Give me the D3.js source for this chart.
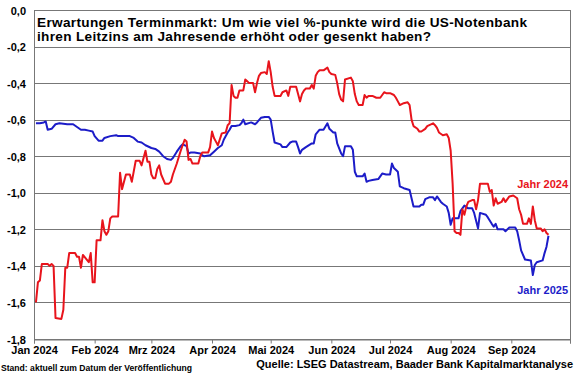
<!DOCTYPE html>
<html>
<head>
<meta charset="utf-8">
<script src="https://cdn.jsdelivr.net/npm/d3@7"></script>
<style>
  body { margin: 0; background: #fff; }
  svg { display: block; font-family: "Liberation Sans", Arial, sans-serif; font-weight: bold; }
</style>
</head>
<body>
<svg id="chart"></svg>
<script>
const width = 580;
const height = 375;
const margin = { top: 10, right: 10, bottom: 36, left: 34 };

const parseTime = d3.timeParse("%Y-%m-%d");

const titleLines = [
  "Erwartungen Terminmarkt: Um wie viel %-punkte wird die US-Notenbank",
  "ihren Leitzins am Jahresende erhöht oder gesenkt haben?"
];
const titleWidths = [490, 394];
const yTicks = [0, -0.2, -0.4, -0.6, -0.8, -1.0, -1.2, -1.4, -1.6, -1.8];
const monthTicks = ["2024-01-01", "2024-02-01", "2024-03-01", "2024-04-01", "2024-05-01",
  "2024-06-01", "2024-07-01", "2024-08-01", "2024-09-01", "2024-10-01"];
const monthLabels = ["Jan 2024", "Feb 2024", "Mrz 2024", "Apr 2024", "Mai 2024",
  "Jun 2024", "Jul 2024", "Aug 2024", "Sep 2024", ""];

// Erwartung fuer Jahresende 2024 (rot)
const jahr2024 = [
  ["2024-01-02", -1.60], ["2024-01-03", -1.49], ["2024-01-04", -1.48], ["2024-01-05", -1.39],
  ["2024-01-08", -1.39], ["2024-01-09", -1.40], ["2024-01-10", -1.39], ["2024-01-11", -1.40],
  ["2024-01-12", -1.685], ["2024-01-15", -1.69], ["2024-01-16", -1.64], ["2024-01-17", -1.41],
  ["2024-01-18", -1.41], ["2024-01-19", -1.33], ["2024-01-22", -1.33], ["2024-01-23", -1.35],
  ["2024-01-24", -1.35], ["2024-01-25", -1.41], ["2024-01-26", -1.34], ["2024-01-29", -1.38],
  ["2024-01-30", -1.33], ["2024-01-31", -1.49], ["2024-02-01", -1.49], ["2024-02-02", -1.26],
  ["2024-02-04", -1.26], ["2024-02-05", -1.15], ["2024-02-06", -1.21], ["2024-02-07", -1.23],
  ["2024-02-08", -1.21], ["2024-02-09", -1.14], ["2024-02-10", -1.13], ["2024-02-13", -1.13],
  ["2024-02-14", -0.89], ["2024-02-15", -0.98], ["2024-02-17", -0.90], ["2024-02-19", -0.90],
  ["2024-02-20", -0.94], ["2024-02-22", -0.825], ["2024-02-24", -0.825], ["2024-02-25", -0.85],
  ["2024-02-27", -0.77], ["2024-02-28", -0.83], ["2024-02-29", -0.83], ["2024-03-01", -0.90],
  ["2024-03-02", -0.92], ["2024-03-03", -0.92], ["2024-03-04", -0.87], ["2024-03-05", -0.85],
  ["2024-03-06", -0.90], ["2024-03-08", -0.95], ["2024-03-10", -0.95], ["2024-03-11", -0.94],
  ["2024-03-12", -0.90], ["2024-03-14", -0.84], ["2024-03-16", -0.77], ["2024-03-18", -0.71],
  ["2024-03-19", -0.72], ["2024-03-20", -0.82], ["2024-03-21", -0.815], ["2024-03-22", -0.84],
  ["2024-03-25", -0.84], ["2024-03-26", -0.80], ["2024-03-27", -0.78], ["2024-03-30", -0.78],
  ["2024-03-31", -0.75], ["2024-04-01", -0.665], ["2024-04-02", -0.70], ["2024-04-03", -0.72],
  ["2024-04-04", -0.74], ["2024-04-06", -0.675], ["2024-04-08", -0.67], ["2024-04-09", -0.63],
  ["2024-04-10", -0.62], ["2024-04-11", -0.41], ["2024-04-12", -0.47], ["2024-04-13", -0.48],
  ["2024-04-14", -0.48], ["2024-04-15", -0.44], ["2024-04-17", -0.44], ["2024-04-18", -0.38],
  ["2024-04-19", -0.39], ["2024-04-20", -0.40], ["2024-04-22", -0.40], ["2024-04-23", -0.45],
  ["2024-04-24", -0.40], ["2024-04-25", -0.36], ["2024-04-26", -0.345], ["2024-04-28", -0.34],
  ["2024-04-29", -0.35], ["2024-04-30", -0.28], ["2024-05-01", -0.34], ["2024-05-02", -0.42],
  ["2024-05-03", -0.47], ["2024-05-06", -0.47], ["2024-05-07", -0.45], ["2024-05-09", -0.44],
  ["2024-05-10", -0.47], ["2024-05-11", -0.42], ["2024-05-14", -0.42], ["2024-05-15", -0.46],
  ["2024-05-16", -0.50], ["2024-05-17", -0.46], ["2024-05-18", -0.44], ["2024-05-19", -0.43],
  ["2024-05-21", -0.43], ["2024-05-22", -0.41], ["2024-05-23", -0.43], ["2024-05-24", -0.36],
  ["2024-05-25", -0.34], ["2024-05-26", -0.33], ["2024-05-28", -0.33], ["2024-05-30", -0.315],
  ["2024-05-31", -0.34], ["2024-06-01", -0.35], ["2024-06-03", -0.355], ["2024-06-04", -0.40],
  ["2024-06-05", -0.46], ["2024-06-06", -0.49], ["2024-06-07", -0.50], ["2024-06-08", -0.38],
  ["2024-06-11", -0.37], ["2024-06-12", -0.39], ["2024-06-13", -0.46], ["2024-06-14", -0.50],
  ["2024-06-15", -0.52], ["2024-06-17", -0.52], ["2024-06-18", -0.465], ["2024-06-19", -0.48],
  ["2024-06-20", -0.47], ["2024-06-22", -0.47], ["2024-06-24", -0.48], ["2024-06-26", -0.48],
  ["2024-06-28", -0.45], ["2024-06-29", -0.455], ["2024-07-01", -0.455], ["2024-07-03", -0.465],
  ["2024-07-04", -0.48], ["2024-07-05", -0.50], ["2024-07-06", -0.52], ["2024-07-08", -0.51],
  ["2024-07-10", -0.505], ["2024-07-11", -0.52], ["2024-07-12", -0.60], ["2024-07-13", -0.635],
  ["2024-07-15", -0.65], ["2024-07-16", -0.665], ["2024-07-17", -0.665], ["2024-07-19", -0.65],
  ["2024-07-20", -0.635], ["2024-07-23", -0.62], ["2024-07-24", -0.63], ["2024-07-25", -0.645],
  ["2024-07-26", -0.67], ["2024-07-28", -0.685], ["2024-07-30", -0.68], ["2024-07-31", -0.70],
  ["2024-08-01", -0.77], ["2024-08-02", -0.95], ["2024-08-03", -1.21], ["2024-08-04", -1.22],
  ["2024-08-05", -1.22], ["2024-08-06", -1.23], ["2024-08-07", -1.09], ["2024-08-08", -1.12],
  ["2024-08-09", -1.075], ["2024-08-10", -1.05], ["2024-08-12", -1.04], ["2024-08-13", -1.04],
  ["2024-08-14", -1.09], ["2024-08-15", -1.04], ["2024-08-16", -0.95], ["2024-08-20", -0.95],
  ["2024-08-21", -0.995], ["2024-08-22", -0.985], ["2024-08-23", -1.07], ["2024-08-24", -1.03],
  ["2024-08-25", -1.06], ["2024-08-27", -1.05], ["2024-08-28", -1.03], ["2024-08-29", -1.05],
  ["2024-08-31", -1.02], ["2024-09-02", -1.015], ["2024-09-04", -1.03], ["2024-09-05", -1.09],
  ["2024-09-06", -1.12], ["2024-09-07", -1.17], ["2024-09-09", -1.17], ["2024-09-10", -1.14],
  ["2024-09-11", -1.17], ["2024-09-12", -1.075], ["2024-09-13", -1.15], ["2024-09-14", -1.195],
  ["2024-09-16", -1.195], ["2024-09-17", -1.21], ["2024-09-18", -1.20], ["2024-09-19", -1.22],
  ["2024-09-20", -1.23]
];

// Erwartung fuer Jahresende 2025 (blau)
const jahr2025 = [
  ["2024-01-02", -0.62], ["2024-01-04", -0.62], ["2024-01-06", -0.615], ["2024-01-07", -0.61],
  ["2024-01-08", -0.655], ["2024-01-10", -0.65], ["2024-01-12", -0.625], ["2024-01-14", -0.62],
  ["2024-01-18", -0.625], ["2024-01-21", -0.625], ["2024-01-23", -0.64], ["2024-01-25", -0.655],
  ["2024-01-27", -0.655], ["2024-01-29", -0.66], ["2024-01-31", -0.665], ["2024-02-01", -0.69],
  ["2024-02-03", -0.715], ["2024-02-05", -0.715], ["2024-02-06", -0.70], ["2024-02-09", -0.69],
  ["2024-02-12", -0.685], ["2024-02-13", -0.69], ["2024-02-15", -0.69], ["2024-02-19", -0.69],
  ["2024-02-21", -0.70], ["2024-02-23", -0.72], ["2024-02-25", -0.725], ["2024-02-27", -0.74],
  ["2024-03-01", -0.755], ["2024-03-03", -0.76], ["2024-03-05", -0.775], ["2024-03-07", -0.80],
  ["2024-03-09", -0.815], ["2024-03-11", -0.82], ["2024-03-12", -0.81], ["2024-03-14", -0.775],
  ["2024-03-16", -0.745], ["2024-03-17", -0.735], ["2024-03-19", -0.745], ["2024-03-20", -0.785],
  ["2024-03-21", -0.78], ["2024-03-23", -0.78], ["2024-03-26", -0.785], ["2024-03-27", -0.795],
  ["2024-03-28", -0.80], ["2024-03-31", -0.795], ["2024-04-02", -0.775], ["2024-04-04", -0.755],
  ["2024-04-06", -0.74], ["2024-04-07", -0.71], ["2024-04-09", -0.67], ["2024-04-10", -0.655],
  ["2024-04-11", -0.635], ["2024-04-13", -0.635], ["2024-04-15", -0.63], ["2024-04-16", -0.62],
  ["2024-04-17", -0.60], ["2024-04-18", -0.625], ["2024-04-21", -0.615], ["2024-04-23", -0.625],
  ["2024-04-24", -0.615], ["2024-04-26", -0.59], ["2024-04-28", -0.585], ["2024-04-30", -0.585],
  ["2024-05-01", -0.60], ["2024-05-02", -0.665], ["2024-05-03", -0.725], ["2024-05-06", -0.735],
  ["2024-05-07", -0.75], ["2024-05-09", -0.75], ["2024-05-11", -0.725], ["2024-05-12", -0.72],
  ["2024-05-14", -0.72], ["2024-05-15", -0.75], ["2024-05-16", -0.785], ["2024-05-17", -0.765],
  ["2024-05-19", -0.75], ["2024-05-22", -0.73], ["2024-05-23", -0.73], ["2024-05-24", -0.68],
  ["2024-05-26", -0.655], ["2024-05-28", -0.655], ["2024-05-30", -0.62], ["2024-05-31", -0.65],
  ["2024-06-02", -0.67], ["2024-06-03", -0.67], ["2024-06-04", -0.73], ["2024-06-06", -0.785],
  ["2024-06-07", -0.80], ["2024-06-08", -0.745], ["2024-06-11", -0.745], ["2024-06-12", -0.765],
  ["2024-06-13", -0.885], ["2024-06-14", -0.91], ["2024-06-17", -0.91], ["2024-06-18", -0.895],
  ["2024-06-19", -0.94], ["2024-06-20", -0.935], ["2024-06-22", -0.93], ["2024-06-25", -0.925],
  ["2024-06-27", -0.895], ["2024-06-29", -0.90], ["2024-07-01", -0.90], ["2024-07-02", -0.84],
  ["2024-07-03", -0.865], ["2024-07-05", -0.885], ["2024-07-06", -0.965], ["2024-07-08", -0.975],
  ["2024-07-11", -0.985], ["2024-07-12", -1.03], ["2024-07-13", -1.075], ["2024-07-16", -1.075],
  ["2024-07-17", -1.065], ["2024-07-18", -1.065], ["2024-07-19", -1.035], ["2024-07-21", -1.025],
  ["2024-07-23", -1.025], ["2024-07-24", -1.04], ["2024-07-25", -1.02], ["2024-07-27", -1.05],
  ["2024-07-28", -1.06], ["2024-07-30", -1.075], ["2024-07-31", -1.11], ["2024-08-01", -1.175],
  ["2024-08-02", -1.14], ["2024-08-05", -1.14], ["2024-08-06", -1.10], ["2024-08-08", -1.07],
  ["2024-08-10", -1.085], ["2024-08-12", -1.085], ["2024-08-13", -1.11], ["2024-08-15", -1.195],
  ["2024-08-16", -1.11], ["2024-08-19", -1.12], ["2024-08-20", -1.135], ["2024-08-22", -1.17],
  ["2024-08-23", -1.185], ["2024-08-24", -1.17], ["2024-08-25", -1.20], ["2024-08-28", -1.20],
  ["2024-08-29", -1.21], ["2024-08-31", -1.19], ["2024-09-03", -1.19], ["2024-09-04", -1.21],
  ["2024-09-05", -1.26], ["2024-09-06", -1.315], ["2024-09-08", -1.365], ["2024-09-11", -1.37],
  ["2024-09-12", -1.45], ["2024-09-13", -1.395], ["2024-09-14", -1.38], ["2024-09-17", -1.37],
  ["2024-09-18", -1.33], ["2024-09-19", -1.295], ["2024-09-20", -1.235]
];

const seriesColors = { red: "#e8141c", blue: "#1c1cc8" };

const svg = d3.select("#chart")
  .attr("width", width)
  .attr("height", height)
  .attr("viewBox", [0, 0, width, height]);

const x = d3.scaleTime()
  .domain([parseTime(monthTicks[0]), parseTime(monthTicks[monthTicks.length - 1])])
  .range([margin.left, width - margin.right]);

const y = d3.scaleLinear()
  .domain([-1.8, 0])
  .range([height - margin.bottom, margin.top]);

// horizontal grid
svg.append("g")
  .selectAll("line")
  .data(yTicks)
  .join("line")
  .attr("x1", margin.left)
  .attr("x2", width - margin.right)
  .attr("y1", d => Math.round(y(d)) + 0.5)
  .attr("y2", d => Math.round(y(d)) + 0.5)
  .attr("stroke", "#777")
  .attr("stroke-width", 1);

// frame left/right
svg.append("line")
  .attr("x1", margin.left + 0.5).attr("x2", margin.left + 0.5)
  .attr("y1", margin.top).attr("y2", height - margin.bottom + 1)
  .attr("stroke", "#777");
svg.append("line")
  .attr("x1", width - margin.right + 0.5).attr("x2", width - margin.right + 0.5)
  .attr("y1", margin.top).attr("y2", height - margin.bottom + 1)
  .attr("stroke", "#777");

// y labels
svg.append("g")
  .selectAll("text")
  .data(yTicks)
  .join("text")
  .attr("x", margin.left - 8)
  .attr("y", d => y(d) + 4.5)
  .attr("text-anchor", "end")
  .attr("font-size", 11)
  .attr("fill", "#000")
  .text(d => d3.format(".1f")(d).replace(".", ",").replace("−", "-"));

// x axis ticks + labels
const xAxis = svg.append("g")
  .attr("transform", `translate(0,${Math.round(y(-1.8)) + 0.5})`)
  .call(d3.axisBottom(x)
    .tickValues(monthTicks.map(parseTime))
    .tickSize(4)
    .tickFormat((d, i) => monthLabels[i]));
xAxis.select(".domain").attr("stroke", "#777");
xAxis.selectAll(".tick line").attr("stroke", "#777");
xAxis.selectAll(".tick text")
  .attr("font-family", "'Liberation Sans', Arial, sans-serif")
  .attr("font-weight", "bold")
  .attr("font-size", 11)
  .attr("fill", "#000")
  .attr("dy", "0.72em");

const line = d3.line()
  .x(d => x(parseTime(d[0])))
  .y(d => y(d[1]));

svg.append("path")
  .datum(jahr2025)
  .attr("fill", "none")
  .attr("stroke", seriesColors.blue)
  .attr("stroke-width", 2)
  .attr("stroke-linejoin", "round")
  .attr("d", line);

svg.append("path")
  .datum(jahr2024)
  .attr("fill", "none")
  .attr("stroke", seriesColors.red)
  .attr("stroke-width", 2)
  .attr("stroke-linejoin", "round")
  .attr("d", line);

// title
svg.append("g")
  .selectAll("text")
  .data(titleLines)
  .join("text")
  .attr("x", margin.left + 3)
  .attr("y", (d, i) => 26.5 + i * 14)
  .attr("font-size", 13.6)
  .attr("textLength", (d, i) => titleWidths[i])
  .attr("lengthAdjust", "spacing")
  .attr("fill", "#000")
  .text(d => d);

// series labels
svg.append("text")
  .attr("x", 568).attr("y", 188)
  .attr("text-anchor", "end")
  .attr("font-size", 11)
  .attr("fill", seriesColors.red)
  .text("Jahr 2024");
svg.append("text")
  .attr("x", 568).attr("y", 294)
  .attr("text-anchor", "end")
  .attr("font-size", 11)
  .attr("fill", seriesColors.blue)
  .text("Jahr 2025");

// footer
svg.append("text")
  .attr("x", 573).attr("y", 367.5)
  .attr("text-anchor", "end")
  .attr("font-size", 11)
  .attr("fill", "#000")
  .text("Quelle: LSEG Datastream, Baader Bank Kapitalmarktanalyse");
svg.append("text")
  .attr("x", 1).attr("y", 371)
  .attr("font-size", 8.6)
  .attr("fill", "#000")
  .text("Stand: aktuell zum Datum der Veröffentlichung");
</script>
</body>
</html>
